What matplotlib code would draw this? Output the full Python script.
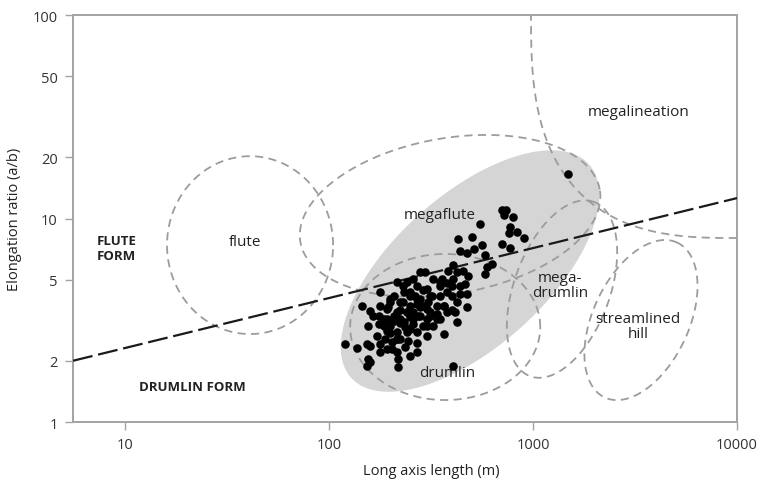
import numpy as np
import matplotlib
matplotlib.use('Agg')
import matplotlib.pyplot as plt
from matplotlib.ticker import NullLocator

plt.rcParams['font.family'] = ['Open Sans', 'DejaVu Sans']

# measured bedforms: long axis length (m) and elongation ratio (a/b)
length_m = [1490, 703, 738, 721, 802, 550, 771, 766, 838, 903,
            771, 703, 431, 501, 561, 511, 439, 473, 582, 628,
            597, 582, 407, 385, 423, 456, 482, 465, 407, 378,
            357, 350, 399, 439, 473, 439, 423, 399, 473, 415,
            423, 296, 269, 240, 232, 264, 290, 319, 350, 337,
            301, 269, 249, 223, 207, 199, 178, 178, 215, 240,
            274, 313, 350, 325, 290, 259, 232, 207, 185, 165,
            159, 145, 175, 192, 215, 240, 269, 301, 364, 171,
            188, 203, 223, 245, 269, 269, 192, 178, 215, 203,
            219, 219, 159, 153, 137, 120, 156, 159, 153, 407,
            156, 195, 223, 249, 279, 307, 378, 364, 399, 199,
            249, 279, 223, 259, 192, 236, 249, 236, 301, 337,
            215, 178, 175,
            199, 231, 249, 269, 290, 313, 240, 259, 279, 223,
            207, 192, 185, 199, 215, 249, 301, 337, 313, 364,
            259, 279, 231, 215, 325, 301, 350, 378]
elong = [16.5, 11.0, 11.0, 10.4, 10.2, 9.4, 9.1, 8.5, 8.6, 8.0,
         7.2, 7.5, 7.9, 8.1, 7.4, 7.1, 6.95, 6.8, 6.6, 6.0,
         5.8, 5.35, 5.9, 5.55, 5.44, 5.55, 5.24, 4.76, 5.05, 4.82,
         5.05, 4.65, 4.68, 4.65, 4.26, 4.26, 3.87, 3.56, 3.66, 3.46,
         3.11, 5.44, 4.68, 4.86, 4.34, 4.18, 4.43, 4.18, 4.18, 3.73,
         3.60, 3.80, 3.73, 3.87, 4.18, 3.87, 4.34, 3.73, 3.46, 3.46,
         3.33, 3.33, 3.21, 2.98, 2.98, 3.03, 3.09, 3.15, 3.21, 3.33,
         3.52, 3.73, 3.03, 2.81, 2.76, 2.76, 2.76, 2.66, 2.71, 2.66,
         2.56, 2.47, 2.56, 2.51, 2.45, 2.20, 2.29, 2.42, 2.20, 2.29,
         2.04, 1.86, 2.37, 2.42, 2.30, 2.42, 2.04, 1.97, 1.88, 1.89,
         2.98, 3.66, 3.56, 3.27, 3.66, 3.87, 3.46, 3.73, 4.18, 2.98,
         4.18, 4.03, 3.21, 3.46, 3.21, 2.33, 2.12, 2.92, 3.21, 3.40,
         2.56, 2.20, 3.33,
         4.02, 3.87, 4.34, 4.02, 3.72, 4.18, 3.46, 3.21, 3.33, 3.08,
         3.33, 3.59, 2.97, 2.75, 2.56, 2.86, 2.97, 3.21, 3.46, 3.72,
         5.04, 5.43, 4.68, 4.85, 5.04, 4.50, 4.85, 4.34]

# flute form / drumlin form boundary
split_x = [5.56, 10000]
split_y = [2.0, 12.6]

# fields: centre x (m), centre y, half axes in decades, tilt (deg)
flute_field = (41, 7.4, 0.407, 0.437, 0)
megaflute_field = (392, 10.3, 0.745, 0.382, 10)
drumlin_field = (371, 2.93, 0.466, 0.359, 0)
megadrumlin_field = (1387, 4.5, 0.456, 0.235, 70)
hill_field = (3381, 3.17, 0.42, 0.235, 65)
data_field = (491, 5.52, 0.784, 0.373, 42)
# megalineation: superellipse around the top right corner
megalin_field = (10000, 100, 1.01, 1.096, 0)
megalin_power = 2.8


def loop(cx, cy, a, b, ang, n=2.0, num=400):
    t = np.linspace(0, 2 * np.pi, num)
    c, s = np.cos(t), np.sin(t)
    u = a * np.sign(c) * np.abs(c) ** (2 / n)
    v = b * np.sign(s) * np.abs(s) ** (2 / n)
    r = np.radians(ang)
    lx = np.log10(cx) + u * np.cos(r) - v * np.sin(r)
    ly = np.log10(cy) + u * np.sin(r) + v * np.cos(r)
    return 10 ** lx, 10 ** ly


fig = plt.figure(figsize=(7.68, 4.85), dpi=100)
ax = fig.add_axes([0.0951, 0.1278, 0.8646, 0.8392])
ax.set_xscale('log')
ax.set_yscale('log')

gx, gy = loop(*data_field)
ax.fill(gx, gy, color='#d5d5d5', lw=0, zorder=1)

dash_style = dict(color='#9c9c9c', lw=1.3, dashes=(4.5, 3), zorder=2)
for f in [flute_field, megaflute_field, drumlin_field, megadrumlin_field, hill_field]:
    ex, ey = loop(*f)
    ax.plot(ex, ey, **dash_style)
mx, my = loop(*megalin_field, n=megalin_power, num=1200)
ax.plot(mx, my, **dash_style)

ax.plot(split_x, split_y, color='#1a1a1a', lw=1.6, dashes=(9, 2.6), zorder=3)
ax.scatter(length_m, elong, s=38, color='black', lw=0, zorder=4)

tc = '#222222'
ax.text(3275, 33.4, 'megalineation', fontsize=11, ha='center', va='center', color=tc)
ax.text(350, 10.5, 'megaflute', fontsize=11, ha='center', va='center', color=tc)
ax.text(38.7, 7.67, 'flute', fontsize=11, ha='center', va='center', color=tc)
ax.text(7.3, 7.16, 'FLUTE\nFORM', fontsize=9.5, fontweight='bold', ha='left', va='center',
        color=tc, linespacing=1.2)
ax.text(21.3, 1.5, 'DRUMLIN FORM', fontsize=9.5, fontweight='bold', ha='center', va='center',
        color=tc)
ax.text(1355, 4.71, 'mega-\ndrumlin', fontsize=11, ha='center', va='center', color=tc,
        linespacing=1.05)
ax.text(3275, 2.96, 'streamlined\nhill', fontsize=11, ha='center', va='center', color=tc,
        linespacing=1.05)
ax.text(379, 1.76, 'drumlin', fontsize=11, ha='center', va='center', color=tc)

ax.set_xlim(5.56, 10000)
ax.set_ylim(1, 100)
ax.set_xticks([10, 100, 1000, 10000])
ax.set_xticklabels(['10', '100', '1000', '10000'])
ax.set_yticks([1, 2, 5, 10, 20, 50, 100])
ax.set_yticklabels(['1', '2', '5', '10', '20', '50', '100'])
ax.xaxis.set_minor_locator(NullLocator())
ax.yaxis.set_minor_locator(NullLocator())

for sp in ax.spines.values():
    sp.set_color('#a3a3a3')
    sp.set_linewidth(1.4)
ax.tick_params(length=6, width=1, color='#a3a3a3', labelsize=10.5, labelcolor='#333333', pad=5)

ax.set_xlabel('Long axis length (m)', fontsize=10.5, color=tc)
ax.set_ylabel('Elongation ratio (a/b)', fontsize=10.5, color=tc, labelpad=8)
ax.xaxis.set_label_coords(0.54, -0.1)

fig.savefig('out.png', dpi=100)
